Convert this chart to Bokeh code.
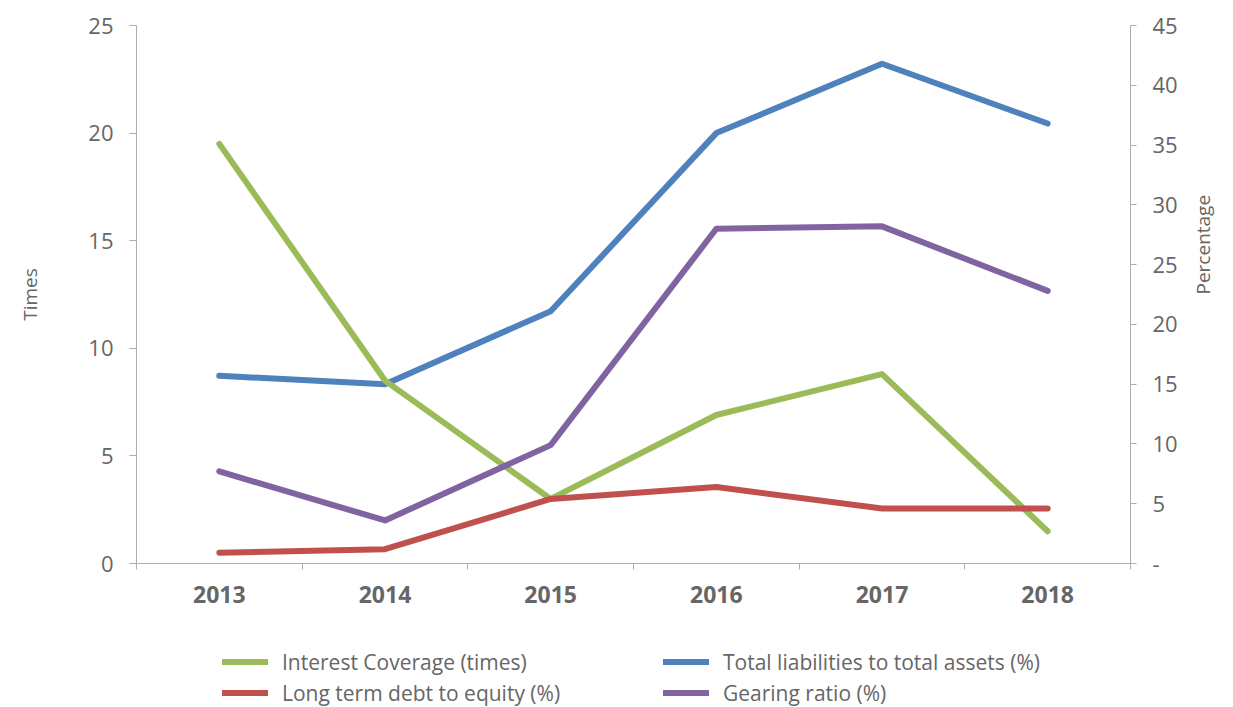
import math
from bokeh.plotting import figure
from bokeh.layouts import column
from bokeh.models import (Range1d, LinearAxis, FixedTicker, Legend, LegendItem)
from bokeh.embed import file_html
from bokeh.resources import INLINE

years = ["2013", "2014", "2015", "2016", "2017", "2018"]
interest_coverage = [19.5, 8.5, 3.0, 6.9, 8.8, 1.5]          # times (left axis)
total_liab_assets = [15.7, 15.0, 21.1, 36.0, 41.8, 36.8]      # % (right axis)
lt_debt_equity = [0.9, 1.2, 5.4, 6.4, 4.6, 4.6]               # % (right axis)
gearing_ratio = [7.7, 3.6, 9.9, 28.0, 28.2, 22.8]             # % (right axis)

left_ticks = [0, 5, 10, 15, 20, 25]
right_ticks = [0, 5, 10, 15, 20, 25, 30, 35, 40, 45]

GREEN = "#9BBB59"
BLUE = "#4F81BD"
RED = "#C0504D"
PURPLE = "#8064A2"
TXT = "#666666"
AX = "#ADADAD"
FONT = "Open Sans"

xs = [i + 0.5 for i in range(len(years))]

MAIN_H = 618
p = figure(width=1233, height=MAIN_H, output_backend="svg", toolbar_location=None,
           x_range=Range1d(0, len(years)), y_range=Range1d(0, 25),
           min_border_left=136, min_border_right=103, min_border_top=25,
           min_border_bottom=55)
p.outline_line_color = None
p.grid.visible = False
p.background_fill_color = "white"
p.border_fill_color = "white"

p.extra_y_ranges = {"pct": Range1d(0, 45)}

# x axis
xa = p.xaxis[0]
xa.ticker = FixedTicker(ticks=xs, minor_ticks=list(range(len(years) + 1)))
xa.major_label_overrides = {x: y for x, y in zip(xs, years)}
xa.major_tick_line_color = None
xa.major_tick_out = 0
xa.major_tick_in = 0
xa.minor_tick_out = 6
xa.minor_tick_in = 0
xa.minor_tick_line_color = AX
xa.axis_line_color = AX
xa.major_label_text_font = FONT
xa.major_label_text_font_style = "bold"
xa.major_label_text_font_size = "23px"
xa.major_label_text_color = TXT
xa.major_label_standoff = 16

# left axis
ya = p.yaxis[0]
ya.ticker = FixedTicker(ticks=left_ticks)
ya.minor_tick_line_color = None
ya.major_tick_out = 7
ya.major_tick_in = 0
ya.major_tick_line_color = AX
ya.axis_line_color = AX
ya.major_label_text_font = FONT
ya.major_label_text_font_size = "22px"
ya.major_label_text_color = TXT
ya.major_label_standoff = 16
ya.axis_label = "Times"
ya.axis_label_text_font = FONT
ya.axis_label_text_font_size = "19px"
ya.axis_label_text_font_style = "normal"
ya.axis_label_text_color = TXT
ya.axis_label_standoff = 42

# right axis
ra = LinearAxis(y_range_name="pct")
ra.ticker = FixedTicker(ticks=right_ticks)
ra.major_label_overrides = {0: "-"}
ra.minor_tick_line_color = None
ra.major_tick_out = 6
ra.major_tick_in = 0
ra.major_tick_line_color = AX
ra.axis_line_color = AX
ra.major_label_text_font = FONT
ra.major_label_text_font_size = "22px"
ra.major_label_text_color = TXT
ra.major_label_standoff = 16
ra.axis_label = "Percentage"
ra.axis_label_text_font = FONT
ra.axis_label_text_font_size = "19px"
ra.axis_label_text_font_style = "normal"
ra.axis_label_text_color = TXT
ra.axis_label_standoff = 22
ra.axis_label_orientation = math.pi / 2
p.add_layout(ra, "right")

lw = 6
kw = dict(line_width=lw, line_cap="round", line_join="round")
p.line(xs, total_liab_assets, line_color=BLUE, y_range_name="pct", **kw)
p.line(xs, interest_coverage, line_color=GREEN, **kw)
p.line(xs, gearing_ratio, line_color=PURPLE, y_range_name="pct", **kw)
p.line(xs, lt_debt_equity, line_color=RED, y_range_name="pct", **kw)

# legend strip below the chart (frame aligned with the chart above)
LEG_H = 707 - MAIN_H
q = figure(width=1233, height=LEG_H, output_backend="svg", toolbar_location=None,
           x_range=Range1d(0, 1), y_range=Range1d(0, 1),
           x_axis_type=None, y_axis_type=None, min_border=0)
q.outline_line_color = None
q.grid.visible = False
q.border_fill_color = "white"
lkw = dict(line_width=lw, line_cap="round")
off = [-10, -9]
l_green = q.line(off, off, line_color=GREEN, **lkw)
l_blue = q.line(off, off, line_color=BLUE, **lkw)
l_red = q.line(off, off, line_color=RED, **lkw)
l_purple = q.line(off, off, line_color=PURPLE, **lkw)

legend = Legend(items=[
    LegendItem(label="Interest Coverage (times)", renderers=[l_green]),
    LegendItem(label="Total liabilities to total assets (%)", renderers=[l_blue]),
    LegendItem(label="Long term debt to equity (%)", renderers=[l_red]),
    LegendItem(label="Gearing ratio (%)", renderers=[l_purple]),
], orientation="horizontal", ncols=2, location=(86, 0))
legend.glyph_width = 46
legend.glyph_height = 29
legend.label_height = 29
legend.label_width = 379
legend.label_standoff = 14
legend.spacing = 2
legend.padding = 0
legend.margin = 0
legend.border_line_color = None
legend.background_fill_alpha = 0
legend.label_text_font = FONT
legend.label_text_font_size = "21px"
legend.label_text_color = TXT
q.add_layout(legend, "center")

open("out.html", "w").write(file_html(column(p, q, spacing=0), INLINE))
